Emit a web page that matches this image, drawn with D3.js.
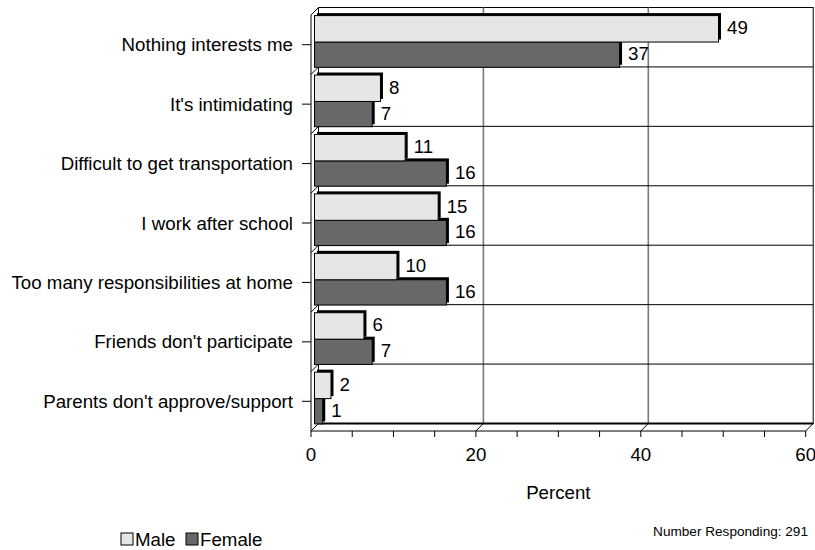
<!DOCTYPE html>
<html>
<head>
<meta charset="utf-8">
<script src="https://cdn.jsdelivr.net/npm/d3@7"></script>
<style>
  html, body { margin: 0; padding: 0; background: #fff; }
  svg { display: block; font-family: "Liberation Sans", Arial, sans-serif; }
</style>
</head>
<body>
<svg id="chart" width="815" height="550"></svg>
<script>
// Reasons for not participating, by gender (percent)
const categories = [
  "Nothing interests me",
  "It's intimidating",
  "Difficult to get transportation",
  "I work after school",
  "Too many responsibilities at home",
  "Friends don't participate",
  "Parents don't approve/support"
];
const male   = [49, 8, 11, 15, 10, 6, 2];
const female = [37, 7, 16, 16, 16, 7, 1];
const xTicks = [0, 20, 40, 60];
const seriesNames = ["Male", "Female"];
const responding = 291;

const colors = { Male: "#e6e6e6", Female: "#686868" };
const fontSize = 18.7;

const svg = d3.select("#chart");

// Front plane of the pseudo-3D plot box, plus a depth offset for the back wall
const frontLeft = 311, frontRight = 805.7, frontTop = 15, frontBottom = 431;
const depth = 7.5;      // offset of the back wall (right / up)
const barDepth = 3.5;   // bars sit part way into the box
const ext = 2.5;        // bar extrusion

const x = d3.scaleLinear().domain([0, 60]).range([frontLeft, frontRight]);
const y = d3.scaleBand().domain(categories).range([frontTop, frontBottom]).padding(0);
const bw = y.bandwidth();

// ---- back wall ----
const back = svg.append("g");
back.append("rect")
  .attr("x", x(0) + depth).attr("y", frontTop - depth)
  .attr("width", x(60) - x(0)).attr("height", frontBottom - frontTop)
  .attr("fill", "#fff").attr("stroke", "#000").attr("stroke-width", 1);

// vertical gridlines on the back wall
back.selectAll("line.vgrid")
  .data(xTicks.filter(d => d > 0 && d < 60))
  .join("line")
  .attr("class", "vgrid")
  .attr("x1", d => x(d) + depth).attr("x2", d => x(d) + depth)
  .attr("y1", frontTop - depth).attr("y2", frontBottom - depth)
  .attr("stroke", "#7a7a7a").attr("stroke-width", 1.6);

// category separators on the back wall
back.selectAll("line.hgrid")
  .data(categories.slice(1))
  .join("line")
  .attr("class", "hgrid")
  .attr("x1", x(0) + depth).attr("x2", x(60) + depth)
  .attr("y1", d => y(d) - depth).attr("y2", d => y(d) - depth)
  .attr("stroke", "#000").attr("stroke-width", 1);

// floor edge of the back wall
back.append("line")
  .attr("x1", x(0) + depth).attr("x2", x(60) + depth)
  .attr("y1", frontBottom - depth).attr("y2", frontBottom - depth)
  .attr("stroke", "#000").attr("stroke-width", 2);

// ---- side wall / floor edges (diagonals) ----
const edges = svg.append("g").attr("stroke", "#000").attr("stroke-width", 1);
// left side: category boundaries
edges.selectAll("line.side")
  .data(categories.map(c => y(c)).concat([frontBottom]))
  .join("line")
  .attr("class", "side")
  .attr("x1", frontLeft).attr("y1", d => d)
  .attr("x2", frontLeft + depth).attr("y2", d => d - depth);
// floor: at each major tick
edges.selectAll("line.floor")
  .data(xTicks)
  .join("line")
  .attr("class", "floor")
  .attr("x1", d => x(d)).attr("y1", frontBottom)
  .attr("x2", d => x(d) + depth).attr("y2", frontBottom - depth);
// front frame
edges.append("line")
  .attr("x1", frontLeft).attr("x2", frontLeft)
  .attr("y1", frontTop).attr("y2", frontBottom);
edges.append("line")
  .attr("x1", frontLeft).attr("x2", frontRight)
  .attr("y1", frontBottom).attr("y2", frontBottom);

// ---- bars ----
const rows = categories.map((c, i) => ({ c, m: male[i], f: female[i] }));
const barsG = svg.append("g");

function drawBar(g, v, top, bottom, fill) {
  const x0 = x(0) + barDepth, x1 = x(v) + barDepth;
  // extrusion (top and right faces)
  g.append("rect")
    .attr("x", x0 + ext).attr("y", top - ext)
    .attr("width", x1 - x0).attr("height", bottom - top)
    .attr("fill", "#000");
  g.append("rect")
    .attr("x", x0).attr("y", top)
    .attr("width", x1 - x0).attr("height", bottom - top)
    .attr("fill", fill).attr("stroke", "#000").attr("stroke-width", 1);
  g.append("text")
    .attr("x", x1 + ext + 6).attr("y", (top + bottom) / 2 - 1)
    .attr("dominant-baseline", "central")
    .attr("font-size", fontSize).attr("fill", "#000")
    .text(v);
}

rows.forEach(r => {
  const g = barsG.append("g");
  const s = y(r.c);
  // female drawn first so the male bar overlaps its extrusion
  drawBar(g, r.f, s + 0.455 * bw, s + 0.88 * bw, colors.Female);
  drawBar(g, r.m, s + 0.01 * bw, s + 0.455 * bw, colors.Male);
});

// ---- axes ----
// category axis ticks and labels
const yAxis = svg.append("g");
yAxis.selectAll("line")
  .data(categories)
  .join("line")
  .attr("x1", frontLeft - 9).attr("x2", frontLeft)
  .attr("y1", d => y(d) + bw / 2).attr("y2", d => y(d) + bw / 2)
  .attr("stroke", "#000");
yAxis.selectAll("text")
  .data(categories)
  .join("text")
  .attr("x", frontLeft - 18).attr("y", d => y(d) + bw / 2)
  .attr("text-anchor", "end").attr("dominant-baseline", "central")
  .attr("font-size", fontSize)
  .text(d => d);

// value axis: minor ticks every 5, labels at majors
const xAxis = svg.append("g");
xAxis.selectAll("line")
  .data(d3.range(0, 61, 5))
  .join("line")
  .attr("x1", d => x(d)).attr("x2", d => x(d))
  .attr("y1", frontBottom).attr("y2", frontBottom + 6)
  .attr("stroke", "#000");
xAxis.selectAll("text")
  .data(xTicks)
  .join("text")
  .attr("x", d => x(d)).attr("y", frontBottom + 23)
  .attr("text-anchor", "middle").attr("dominant-baseline", "central")
  .attr("font-size", fontSize)
  .text(d => d);

svg.append("text")
  .attr("x", (frontLeft + frontRight) / 2).attr("y", 492)
  .attr("text-anchor", "middle").attr("dominant-baseline", "central")
  .attr("font-size", fontSize)
  .text("Percent");

// ---- legend ----
const legend = svg.append("g");
const legendItems = [
  { name: seriesNames[0], x: 121 },
  { name: seriesNames[1], x: 186 }
];
legendItems.forEach(it => {
  legend.append("rect")
    .attr("x", it.x).attr("y", 533).attr("width", 12).attr("height", 12)
    .attr("fill", colors[it.name]).attr("stroke", "#000").attr("stroke-width", 1);
  legend.append("text")
    .attr("x", it.x + 14).attr("y", 539)
    .attr("dominant-baseline", "central")
    .attr("font-size", fontSize)
    .text(it.name);
});

svg.append("text")
  .attr("x", 808).attr("y", 531)
  .attr("text-anchor", "end").attr("dominant-baseline", "central")
  .attr("font-size", 13.6)
  .text("Number Responding:  " + responding);
</script>
</body>
</html>
